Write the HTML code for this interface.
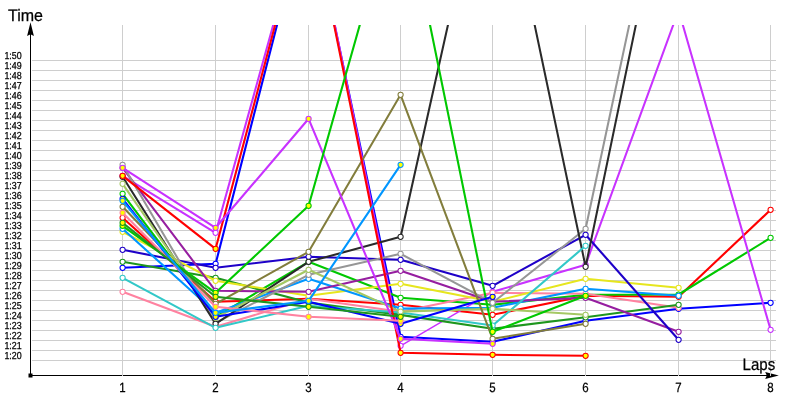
<!DOCTYPE html>
<html lang="en">
<head>
<meta charset="utf-8">
<title>Lap times</title>
<style>
html,body{margin:0;padding:0;background:#fff;}
body{width:800px;height:400px;overflow:hidden;font-family:"Liberation Sans",sans-serif;}
svg{display:block;}
text{font-family:"Liberation Sans",sans-serif;fill:#000;stroke:#000;stroke-width:0.25px;text-rendering:geometricPrecision;}
.t{font-size:10.1px;}
.x{font-size:13.3px;}
.h{font-size:16.6px;}
.g line{stroke:#cecece;stroke-width:1;shape-rendering:crispEdges;}
.s polyline{fill:none;stroke-linejoin:round;stroke-linecap:round;}
.s circle{stroke-width:1.05;}
</style>
</head>
<body>
<svg width="800" height="400" viewBox="0 0 800 400">
<rect width="800" height="400" fill="#fff"/>
<g fill="#000" stroke="none">
<rect x="30" y="30" width="1" height="346"/>
<rect x="30" y="375" width="740" height="1"/>
<rect x="28.5" y="373.5" width="4" height="4"/>
<path d="M30.5 22.3 L33.9 35.9 L30.5 34.3 L27.1 35.9 Z"/>
<path d="M778.8 375.5 L765.2 378.9 L766.8 375.5 L765.2 372.1 Z"/>
</g>
<g class="g">
<line x1="32" y1="60.5" x2="776" y2="60.5"/>
<line x1="32" y1="70.5" x2="776" y2="70.5"/>
<line x1="32" y1="80.5" x2="776" y2="80.5"/>
<line x1="32" y1="90.5" x2="776" y2="90.5"/>
<line x1="32" y1="100.5" x2="776" y2="100.5"/>
<line x1="32" y1="110.5" x2="776" y2="110.5"/>
<line x1="32" y1="120.5" x2="776" y2="120.5"/>
<line x1="32" y1="130.5" x2="776" y2="130.5"/>
<line x1="32" y1="140.5" x2="776" y2="140.5"/>
<line x1="32" y1="150.5" x2="776" y2="150.5"/>
<line x1="32" y1="160.5" x2="776" y2="160.5"/>
<line x1="32" y1="170.5" x2="776" y2="170.5"/>
<line x1="32" y1="180.5" x2="776" y2="180.5"/>
<line x1="32" y1="190.5" x2="776" y2="190.5"/>
<line x1="32" y1="200.5" x2="776" y2="200.5"/>
<line x1="32" y1="210.5" x2="776" y2="210.5"/>
<line x1="32" y1="220.5" x2="776" y2="220.5"/>
<line x1="32" y1="230.5" x2="776" y2="230.5"/>
<line x1="32" y1="240.5" x2="776" y2="240.5"/>
<line x1="32" y1="250.5" x2="776" y2="250.5"/>
<line x1="32" y1="260.5" x2="776" y2="260.5"/>
<line x1="32" y1="270.5" x2="776" y2="270.5"/>
<line x1="32" y1="280.5" x2="776" y2="280.5"/>
<line x1="32" y1="290.5" x2="776" y2="290.5"/>
<line x1="32" y1="300.5" x2="776" y2="300.5"/>
<line x1="32" y1="310.5" x2="776" y2="310.5"/>
<line x1="32" y1="320.5" x2="776" y2="320.5"/>
<line x1="32" y1="330.5" x2="776" y2="330.5"/>
<line x1="32" y1="340.5" x2="776" y2="340.5"/>
<line x1="32" y1="350.5" x2="776" y2="350.5"/>
<line x1="32" y1="360.5" x2="776" y2="360.5"/>
<line x1="122.5" y1="25" x2="122.5" y2="376"/>
<line x1="215.5" y1="25" x2="215.5" y2="376"/>
<line x1="308.5" y1="25" x2="308.5" y2="376"/>
<line x1="400.5" y1="25" x2="400.5" y2="376"/>
<line x1="492.5" y1="25" x2="492.5" y2="376"/>
<line x1="585.5" y1="25" x2="585.5" y2="376"/>
<line x1="678.5" y1="25" x2="678.5" y2="376"/>
<line x1="770.5" y1="25" x2="770.5" y2="376"/>
</g>
<g>
<text class="t" x="4.4" y="59" textLength="17.3" lengthAdjust="spacingAndGlyphs">1:50</text>
<text class="t" x="4.4" y="69" textLength="17.3" lengthAdjust="spacingAndGlyphs">1:49</text>
<text class="t" x="4.4" y="79" textLength="17.3" lengthAdjust="spacingAndGlyphs">1:48</text>
<text class="t" x="4.4" y="89" textLength="17.3" lengthAdjust="spacingAndGlyphs">1:47</text>
<text class="t" x="4.4" y="99" textLength="17.3" lengthAdjust="spacingAndGlyphs">1:46</text>
<text class="t" x="4.4" y="109" textLength="17.3" lengthAdjust="spacingAndGlyphs">1:45</text>
<text class="t" x="4.4" y="119" textLength="17.3" lengthAdjust="spacingAndGlyphs">1:44</text>
<text class="t" x="4.4" y="129" textLength="17.3" lengthAdjust="spacingAndGlyphs">1:43</text>
<text class="t" x="4.4" y="139" textLength="17.3" lengthAdjust="spacingAndGlyphs">1:42</text>
<text class="t" x="4.4" y="149" textLength="17.3" lengthAdjust="spacingAndGlyphs">1:41</text>
<text class="t" x="4.4" y="159" textLength="17.3" lengthAdjust="spacingAndGlyphs">1:40</text>
<text class="t" x="4.4" y="169" textLength="17.3" lengthAdjust="spacingAndGlyphs">1:39</text>
<text class="t" x="4.4" y="179" textLength="17.3" lengthAdjust="spacingAndGlyphs">1:38</text>
<text class="t" x="4.4" y="189" textLength="17.3" lengthAdjust="spacingAndGlyphs">1:37</text>
<text class="t" x="4.4" y="199" textLength="17.3" lengthAdjust="spacingAndGlyphs">1:36</text>
<text class="t" x="4.4" y="209" textLength="17.3" lengthAdjust="spacingAndGlyphs">1:35</text>
<text class="t" x="4.4" y="219" textLength="17.3" lengthAdjust="spacingAndGlyphs">1:34</text>
<text class="t" x="4.4" y="229" textLength="17.3" lengthAdjust="spacingAndGlyphs">1:33</text>
<text class="t" x="4.4" y="239" textLength="17.3" lengthAdjust="spacingAndGlyphs">1:32</text>
<text class="t" x="4.4" y="249" textLength="17.3" lengthAdjust="spacingAndGlyphs">1:31</text>
<text class="t" x="4.4" y="259" textLength="17.3" lengthAdjust="spacingAndGlyphs">1:30</text>
<text class="t" x="4.4" y="269" textLength="17.3" lengthAdjust="spacingAndGlyphs">1:29</text>
<text class="t" x="4.4" y="279" textLength="17.3" lengthAdjust="spacingAndGlyphs">1:28</text>
<text class="t" x="4.4" y="289" textLength="17.3" lengthAdjust="spacingAndGlyphs">1:27</text>
<text class="t" x="4.4" y="299" textLength="17.3" lengthAdjust="spacingAndGlyphs">1:26</text>
<text class="t" x="4.4" y="309" textLength="17.3" lengthAdjust="spacingAndGlyphs">1:25</text>
<text class="t" x="4.4" y="319" textLength="17.3" lengthAdjust="spacingAndGlyphs">1:24</text>
<text class="t" x="4.4" y="329" textLength="17.3" lengthAdjust="spacingAndGlyphs">1:23</text>
<text class="t" x="4.4" y="339" textLength="17.3" lengthAdjust="spacingAndGlyphs">1:22</text>
<text class="t" x="4.4" y="349" textLength="17.3" lengthAdjust="spacingAndGlyphs">1:21</text>
<text class="t" x="4.4" y="359" textLength="17.3" lengthAdjust="spacingAndGlyphs">1:20</text>
<text class="x" x="119.3" y="392" textLength="6.4" lengthAdjust="spacingAndGlyphs">1</text>
<text class="x" x="212.3" y="392" textLength="6.4" lengthAdjust="spacingAndGlyphs">2</text>
<text class="x" x="305.3" y="392" textLength="6.4" lengthAdjust="spacingAndGlyphs">3</text>
<text class="x" x="397.3" y="392" textLength="6.4" lengthAdjust="spacingAndGlyphs">4</text>
<text class="x" x="489.3" y="392" textLength="6.4" lengthAdjust="spacingAndGlyphs">5</text>
<text class="x" x="582.3" y="392" textLength="6.4" lengthAdjust="spacingAndGlyphs">6</text>
<text class="x" x="675.3" y="392" textLength="6.4" lengthAdjust="spacingAndGlyphs">7</text>
<text class="x" x="767.3" y="392" textLength="6.4" lengthAdjust="spacingAndGlyphs">8</text>
<text class="h" x="8" y="21" textLength="35" lengthAdjust="spacingAndGlyphs">Time</text>
<text class="h" x="742.6" y="370" textLength="32.6" lengthAdjust="spacingAndGlyphs">Laps</text>
</g>
<defs><clipPath id="c"><rect x="30" y="25" width="746" height="350"/></clipPath></defs>
<g class="s" clip-path="url(#c)"><g transform="translate(0.1 0.3)">
<g stroke="#0000ff"><polyline points="122.5,267.5 215.5,263.5 308.5,-98.0 400.5,336.5 492.5,341.5 585.5,320.5 678.5,308.5 770.5,302.5" stroke-width="2.1"/><circle cx="122.5" cy="267.5" r="2.6" fill="#ffffff"/><circle cx="215.5" cy="263.5" r="2.6" fill="#ffffff"/><circle cx="400.5" cy="336.5" r="2.6" fill="#ffffff"/><circle cx="492.5" cy="341.5" r="2.6" fill="#ffffff"/><circle cx="585.5" cy="320.5" r="2.6" fill="#ffffff"/><circle cx="678.5" cy="308.5" r="2.6" fill="#ffffff"/><circle cx="770.5" cy="302.5" r="2.6" fill="#ffffff"/></g>
<g stroke="#ff0000"><polyline points="122.5,217.5 215.5,301.5 308.5,298.5 400.5,304.5 492.5,314.5 585.5,295.5 678.5,296.5 770.5,209.5" stroke-width="2.1"/><circle cx="122.5" cy="217.5" r="2.6" fill="#ffffff"/><circle cx="215.5" cy="301.5" r="2.6" fill="#ffffff"/><circle cx="308.5" cy="298.5" r="2.6" fill="#ffffff"/><circle cx="400.5" cy="304.5" r="2.6" fill="#ffffff"/><circle cx="492.5" cy="314.5" r="2.6" fill="#ffffff"/><circle cx="585.5" cy="295.5" r="2.6" fill="#ffffff"/><circle cx="678.5" cy="296.5" r="2.6" fill="#ffffff"/><circle cx="770.5" cy="209.5" r="2.6" fill="#ffffff"/></g>
<polyline stroke="#1e00c8" points="122.5,249.5 215.5,267.5" stroke-width="2.1"/>
<polyline stroke="#827d3c" points="122.5,206.5 215.5,303.5" stroke-width="2.05"/>
<g stroke="#00c800"><polyline points="122.5,193.5 215.5,316.5 308.5,261.5 400.5,297.5 492.5,304.5 585.5,294.4 678.5,294.2 770.5,237.5" stroke-width="2.1"/><circle cx="122.5" cy="193.5" r="2.6" fill="#ffffff"/><circle cx="215.5" cy="316.5" r="2.6" fill="#ffffff"/><circle cx="308.5" cy="261.5" r="2.6" fill="#ffffff"/><circle cx="400.5" cy="297.5" r="2.6" fill="#ffffff"/><circle cx="492.5" cy="304.5" r="2.6" fill="#ffffff"/><circle cx="585.5" cy="294.4" r="2.6" fill="#ffffff"/><circle cx="678.5" cy="294.2" r="2.6" fill="#ffffff"/><circle cx="770.5" cy="237.5" r="2.6" fill="#ffffff"/></g>
<g stroke="#c832ff"><polyline points="122.5,175.5 215.5,232.5 308.5,-103.0 400.5,345.5" stroke-width="2.05"/><polyline points="400.5,345.5 492.5,291.5" stroke-width="1.4"/><polyline points="492.5,291.5 585.5,264.5 678.5,10.0 770.5,329.5" stroke-width="2.05"/><circle cx="122.5" cy="175.5" r="2.6" fill="#ffffff"/><circle cx="215.5" cy="232.5" r="2.6" fill="#ffffff"/><circle cx="400.5" cy="345.5" r="2.6" fill="#ffffff"/><circle cx="492.5" cy="291.5" r="2.6" fill="#ffffff"/><circle cx="585.5" cy="264.5" r="2.6" fill="#ffffff"/><circle cx="770.5" cy="329.5" r="2.6" fill="#ffffff"/></g>
<g stroke="#ff82a0"><polyline points="122.5,291.5 215.5,326.5 308.5,298.5 400.5,311.5 492.5,292.5 585.5,293.5 678.5,307.5" stroke-width="2.1"/><circle cx="122.5" cy="291.5" r="2.6" fill="#ffffff"/><circle cx="215.5" cy="326.5" r="2.6" fill="#ffffff"/><circle cx="308.5" cy="298.5" r="2.6" fill="#ffffff"/><circle cx="400.5" cy="311.5" r="2.6" fill="#ffffff"/><circle cx="492.5" cy="292.5" r="2.6" fill="#ffffff"/><circle cx="585.5" cy="293.5" r="2.6" fill="#ffffff"/><circle cx="678.5" cy="307.5" r="2.6" fill="#ffffff"/></g>
<g stroke="#1e961e"><polyline points="122.5,261.5 215.5,277.5 308.5,302.3 400.5,314.6 492.5,328.5 585.5,317.0 678.5,304.5" stroke-width="2.1"/><circle cx="122.5" cy="261.5" r="2.6" fill="#ffffff"/><circle cx="215.5" cy="277.5" r="2.6" fill="#ffffff"/><circle cx="308.5" cy="302.3" r="2.6" fill="#ffffff"/><circle cx="400.5" cy="314.6" r="2.6" fill="#ffffff"/><circle cx="492.5" cy="328.5" r="2.6" fill="#ffffff"/><circle cx="585.5" cy="317.0" r="2.6" fill="#ffffff"/><circle cx="678.5" cy="304.5" r="2.6" fill="#ffffff"/></g>
<g stroke="#e6e61e"><polyline points="122.5,231.5 215.5,280.5 308.5,295.5 400.5,283.5 492.5,301.5 585.5,278.5 678.5,287.5" stroke-width="2.1"/><circle cx="122.5" cy="231.5" r="2.6" fill="#ffffff"/><circle cx="215.5" cy="280.5" r="2.6" fill="#ffffff"/><circle cx="308.5" cy="295.5" r="2.6" fill="#ffffff"/><circle cx="400.5" cy="283.5" r="2.6" fill="#ffffff"/><circle cx="492.5" cy="301.5" r="2.6" fill="#ffffff"/><circle cx="585.5" cy="278.5" r="2.6" fill="#ffffff"/><circle cx="678.5" cy="287.5" r="2.6" fill="#ffffff"/></g>
<g stroke="#0096ff"><polyline points="122.5,228.5 215.5,312.5 308.5,278.5 400.5,308.3 492.5,307.5 585.5,288.5 678.5,295.5" stroke-width="2.1"/><circle cx="122.5" cy="228.5" r="2.6" fill="#ffffff"/><circle cx="215.5" cy="312.5" r="2.6" fill="#ffffff"/><circle cx="308.5" cy="278.5" r="2.6" fill="#ffffff"/><circle cx="400.5" cy="308.3" r="2.6" fill="#ffffff"/><circle cx="492.5" cy="307.5" r="2.6" fill="#ffffff"/><circle cx="585.5" cy="288.5" r="2.6" fill="#ffffff"/><circle cx="678.5" cy="295.5" r="2.6" fill="#ffffff"/></g>
<g stroke="#961ea0"><polyline points="122.5,167.5 215.5,290.5 308.5,291.5 400.5,270.5 492.5,301.5 585.5,297.5 678.5,331.5" stroke-width="2.05"/><circle cx="122.5" cy="167.5" r="2.6" fill="#ffffff"/><circle cx="215.5" cy="290.5" r="2.6" fill="#ffffff"/><circle cx="308.5" cy="291.5" r="2.6" fill="#ffffff"/><circle cx="400.5" cy="270.5" r="2.6" fill="#ffffff"/><circle cx="492.5" cy="301.5" r="2.6" fill="#ffffff"/><circle cx="585.5" cy="297.5" r="2.6" fill="#ffffff"/><circle cx="678.5" cy="331.5" r="2.6" fill="#ffffff"/></g>
<g stroke="#1e00c8"><polyline points="215.5,267.5 308.5,256.5 400.5,259.5 492.5,285.5 585.5,234.5 678.5,339.5" stroke-width="2.1"/><circle cx="122.5" cy="249.5" r="2.6" fill="#ffffff"/><circle cx="215.5" cy="267.5" r="2.6" fill="#ffffff"/><circle cx="308.5" cy="256.5" r="2.6" fill="#ffffff"/><circle cx="400.5" cy="259.5" r="2.6" fill="#ffffff"/><circle cx="492.5" cy="285.5" r="2.6" fill="#ffffff"/><circle cx="585.5" cy="234.5" r="2.6" fill="#ffffff"/><circle cx="678.5" cy="339.5" r="2.6" fill="#ffffff"/></g>
<g stroke="#969696"><polyline points="122.5,164.5 215.5,322.5 308.5,274.5 400.5,253.5 492.5,302.5 585.5,228.5 678.5,-206.0" stroke-width="2.05"/><circle cx="122.5" cy="164.5" r="2.6" fill="#ffffff"/><circle cx="215.5" cy="322.5" r="2.6" fill="#ffffff"/><circle cx="308.5" cy="274.5" r="2.6" fill="#ffffff"/><circle cx="400.5" cy="253.5" r="2.6" fill="#ffffff"/><circle cx="492.5" cy="302.5" r="2.6" fill="#ffffff"/><circle cx="585.5" cy="228.5" r="2.6" fill="#ffffff"/></g>
<g stroke="#2a2a2a"><polyline points="122.5,176.5 215.5,323.5 308.5,261.5 400.5,236.5 492.5,-175.0 585.5,266.5 678.5,-181.0" stroke-width="2.05"/><circle cx="122.5" cy="176.5" r="2.6" fill="#ffffff"/><circle cx="215.5" cy="323.5" r="2.6" fill="#ffffff"/><circle cx="308.5" cy="261.5" r="2.6" fill="#ffffff"/><circle cx="400.5" cy="236.5" r="2.6" fill="#ffffff"/><circle cx="585.5" cy="266.5" r="2.6" fill="#ffffff"/></g>
<g stroke="#32c8c8"><polyline points="122.5,277.5 215.5,327.5 308.5,305.5 400.5,312.2 492.5,325.2 585.5,245.5" stroke-width="2.1"/><circle cx="122.5" cy="277.5" r="2.6" fill="#ffffff"/><circle cx="215.5" cy="327.5" r="2.6" fill="#ffffff"/><circle cx="308.5" cy="305.5" r="2.6" fill="#ffffff"/><circle cx="400.5" cy="312.2" r="2.6" fill="#ffffff"/><circle cx="492.5" cy="325.2" r="2.6" fill="#ffffff"/><circle cx="585.5" cy="245.5" r="2.6" fill="#ffffff"/></g>
<g stroke="#a5c864"><polyline points="122.5,183.5 215.5,317.5 308.5,269.5 400.5,311.3 492.5,308.5 585.5,314.5" stroke-width="2.1"/><circle cx="122.5" cy="183.5" r="2.6" fill="#ffffff"/><circle cx="215.5" cy="317.5" r="2.6" fill="#ffffff"/><circle cx="308.5" cy="269.5" r="2.6" fill="#ffffff"/><circle cx="400.5" cy="311.3" r="2.6" fill="#ffffff"/><circle cx="492.5" cy="308.5" r="2.6" fill="#ffffff"/><circle cx="585.5" cy="314.5" r="2.6" fill="#ffffff"/></g>
<g stroke="#827d3c"><polyline points="215.5,303.5 308.5,251.5 400.5,94.5 492.5,338.5 585.5,323.5" stroke-width="2.05"/><circle cx="122.5" cy="206.5" r="2.6" fill="#ffffff"/><circle cx="215.5" cy="303.5" r="2.6" fill="#ffffff"/><circle cx="308.5" cy="251.5" r="2.6" fill="#ffffff"/><circle cx="400.5" cy="94.5" r="2.6" fill="#ffffff"/><circle cx="492.5" cy="338.5" r="2.6" fill="#ffffff"/><circle cx="585.5" cy="323.5" r="2.6" fill="#ffffff"/></g>
<g stroke="#ff0000"><polyline points="122.5,175.5 215.5,248.5 308.5,-101.0 400.5,352.5 492.5,354.5 585.5,355.5" stroke-width="2.1"/><circle cx="122.5" cy="175.5" r="2.6" fill="#ffff00"/><circle cx="215.5" cy="248.5" r="2.6" fill="#ffff00"/><circle cx="400.5" cy="352.5" r="2.6" fill="#ffff00"/><circle cx="492.5" cy="354.5" r="2.6" fill="#ffff00"/><circle cx="585.5" cy="355.5" r="2.6" fill="#ffff00"/></g>
<g stroke="#c832ff"><polyline points="122.5,167.5 215.5,227.5 308.5,118.5 400.5,338.5 492.5,343.5" stroke-width="2.1"/><circle cx="122.5" cy="167.5" r="2.6" fill="#ffff00"/><circle cx="215.5" cy="227.5" r="2.6" fill="#ffff00"/><circle cx="308.5" cy="118.5" r="2.6" fill="#ffff00"/><circle cx="400.5" cy="338.5" r="2.6" fill="#ffff00"/><circle cx="492.5" cy="343.5" r="2.6" fill="#ffff00"/></g>
<g stroke="#00c800"><polyline points="122.5,225.5 215.5,292.5 308.5,205.5 400.5,-119.5 492.5,331.5 585.5,295.5" stroke-width="2.1"/><circle cx="122.5" cy="225.5" r="2.6" fill="#ffff00"/><circle cx="215.5" cy="292.5" r="2.6" fill="#ffff00"/><circle cx="308.5" cy="205.5" r="2.6" fill="#ffff00"/><circle cx="492.5" cy="331.5" r="2.6" fill="#ffff00"/><circle cx="585.5" cy="295.5" r="2.6" fill="#ffff00"/></g>
<g stroke="#0000ff"><polyline points="122.5,198.5 215.5,316.5 308.5,301.5 400.5,323.5 492.5,296.5" stroke-width="2.1"/><circle cx="122.5" cy="198.5" r="2.6" fill="#ffff00"/><circle cx="215.5" cy="316.5" r="2.6" fill="#ffff00"/><circle cx="308.5" cy="301.5" r="2.6" fill="#ffff00"/><circle cx="400.5" cy="323.5" r="2.6" fill="#ffff00"/><circle cx="492.5" cy="296.5" r="2.6" fill="#ffff00"/></g>
<g stroke="#ff82a0"><polyline points="122.5,212.5 215.5,306.5 308.5,316.5 400.5,320.5" stroke-width="2.1"/><circle cx="122.5" cy="212.5" r="2.6" fill="#ffff00"/><circle cx="215.5" cy="306.5" r="2.6" fill="#ffff00"/><circle cx="308.5" cy="316.5" r="2.6" fill="#ffff00"/><circle cx="400.5" cy="320.5" r="2.6" fill="#ffff00"/></g>
<g stroke="#1e961e"><polyline points="122.5,222.5 215.5,296.5 308.5,306.5 400.5,316.5" stroke-width="2.1"/><circle cx="122.5" cy="222.5" r="2.6" fill="#ffff00"/><circle cx="215.5" cy="296.5" r="2.6" fill="#ffff00"/><circle cx="308.5" cy="306.5" r="2.6" fill="#ffff00"/><circle cx="400.5" cy="316.5" r="2.6" fill="#ffff00"/></g>
<g stroke="#0096ff"><polyline points="122.5,200.5 215.5,312.5 308.5,300.5 400.5,164.5" stroke-width="2.1"/><circle cx="122.5" cy="200.5" r="2.6" fill="#ffff00"/><circle cx="215.5" cy="312.5" r="2.6" fill="#ffff00"/><circle cx="308.5" cy="300.5" r="2.6" fill="#ffff00"/><circle cx="400.5" cy="164.5" r="2.6" fill="#ffff00"/></g>
</g></g>
</svg>
</body>
</html>
